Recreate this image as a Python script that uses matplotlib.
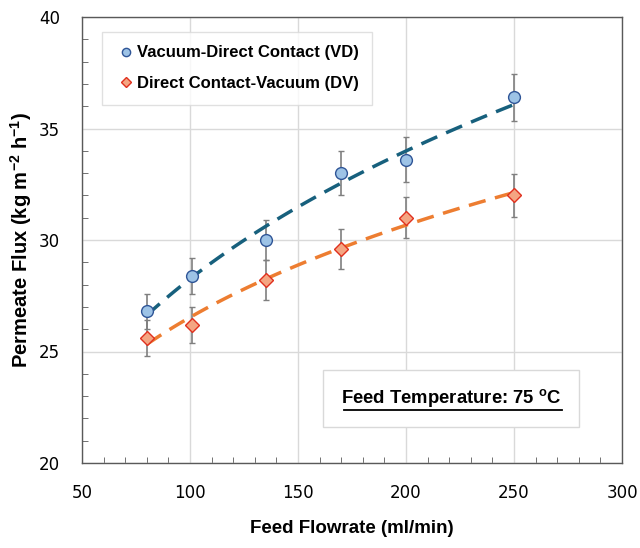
import numpy as np
import matplotlib

matplotlib.use("Agg")
import matplotlib.pyplot as plt
from matplotlib.ticker import MultipleLocator

# feed flowrate (ml/min)
flow = [80, 101, 135, 170, 200, 250]

# permeate flux, Vacuum-Direct Contact (VD)
flux_vd = [26.8, 28.4, 30.0, 33.0, 33.6, 36.4]
err_vd = [0.8, 0.8, 0.9, 1.0, 1.0, 1.05]

# permeate flux, Direct Contact-Vacuum (DV)
flux_dv = [25.6, 26.2, 28.2, 29.6, 31.0, 32.0]
err_dv = [0.8, 0.8, 0.9, 0.9, 0.93, 0.97]

x_ticks = [50, 100, 150, 200, 250, 300]
y_ticks = [20, 25, 30, 35, 40]

label_font = "Liberation Sans"
plt.rcParams["mathtext.fontset"] = "custom"
plt.rcParams["mathtext.rm"] = "Liberation Sans:bold"
plt.rcParams["mathtext.bf"] = "Liberation Sans:bold"
plt.rcParams["mathtext.it"] = "Liberation Sans:bold"

fig = plt.figure(figsize=(6.4, 5.48), dpi=100)
ax = fig.add_axes([82 / 640, 1 - 463 / 548, 540 / 640, 446 / 548])


def power_trend(x, y):
    # power-law trendline, as a spreadsheet would fit it
    b, ln_a = np.polyfit(np.log(x), np.log(y), 1)
    xs = np.linspace(min(x), max(x), 100)
    return xs, np.exp(ln_a) * xs ** b


xs, ys = power_trend(flow, flux_vd)
ax.plot(xs, ys, ls=(0, (5, 2.8)), color="#17607D", lw=2.5, zorder=3)
xs, ys = power_trend(flow, flux_dv)
ax.plot(xs, ys, ls=(0, (5, 2.8)), color="#ED7D31", lw=2.5, zorder=3)

ax.errorbar(flow, flux_vd, yerr=err_vd, fmt="none", ecolor="#7F7F7F",
            elinewidth=1.2, capsize=2.5, zorder=2)
ax.errorbar(flow, flux_dv, yerr=err_dv, fmt="none", ecolor="#7F7F7F",
            elinewidth=1.2, capsize=2.5, zorder=2)

ax.plot(flow, flux_vd, ls="none", marker="o", ms=8.5, mfc="#9DC3E6",
        mec="#2F5597", mew=1.0, zorder=4, label="Vacuum-Direct Contact (VD)")
ax.plot(flow, flux_dv, ls="none", marker="D", ms=7, mfc="#F4A582",
        mec="#E0301E", mew=1.0, zorder=4, label="Direct Contact-Vacuum (DV)")

ax.set_xlim(50, 300)
ax.set_ylim(20, 40)
ax.set_xticks(x_ticks)
ax.set_yticks(y_ticks)
ax.xaxis.set_minor_locator(MultipleLocator(10))
ax.yaxis.set_minor_locator(MultipleLocator(1))
ax.tick_params(which="major", length=0, labelsize=12)
ax.tick_params(axis="y", which="major", pad=16)
ax.tick_params(axis="x", which="major", pad=15)
ax.tick_params(which="minor", direction="in", length=4, color="#595959")
ax.grid(True, which="major", color="#D9D9D9", lw=1.0)
ax.set_axisbelow(True)
for s in ax.spines.values():
    s.set_color("#595959")
    s.set_linewidth(1.0)

ax.set_xlabel("Feed Flowrate (ml/min)", fontsize=13.5, fontweight="bold",
              family=label_font)
ax.set_ylabel("Permeate Flux (kg m$^{-2}$ h$^{-1}$)",
              fontsize=14.5, fontweight="bold", family=label_font)
ax.xaxis.set_label_coords(0.5, -0.128)
ax.yaxis.set_label_coords(-0.088, 0.5)

leg = ax.legend(loc="upper left", bbox_to_anchor=(0.022, 0.985),
                prop={"family": label_font, "weight": "bold", "size": 12},
                frameon=True, fancybox=False, handletextpad=0.1,
                handlelength=1.2, borderpad=0.8, labelspacing=0.95,
                markerscale=0.7)
leg.get_frame().set_edgecolor("#D9D9D9")
leg.get_frame().set_linewidth(1.0)

ax.text(0.684, 0.145, "Feed Temperature: 75 $^{\\mathrm{o}}$C",
        transform=ax.transAxes, ha="center", va="center", fontsize=13.3,
        fontweight="bold", family=label_font, zorder=5,
        bbox=dict(boxstyle="square,pad=0.95", fc="white", ec="#D9D9D9", lw=1.0))
ax.plot([0.486, 0.888], [0.118, 0.118], transform=ax.transAxes, color="black",
        lw=1.3, zorder=6)

fig.savefig("out.png", dpi=100)
